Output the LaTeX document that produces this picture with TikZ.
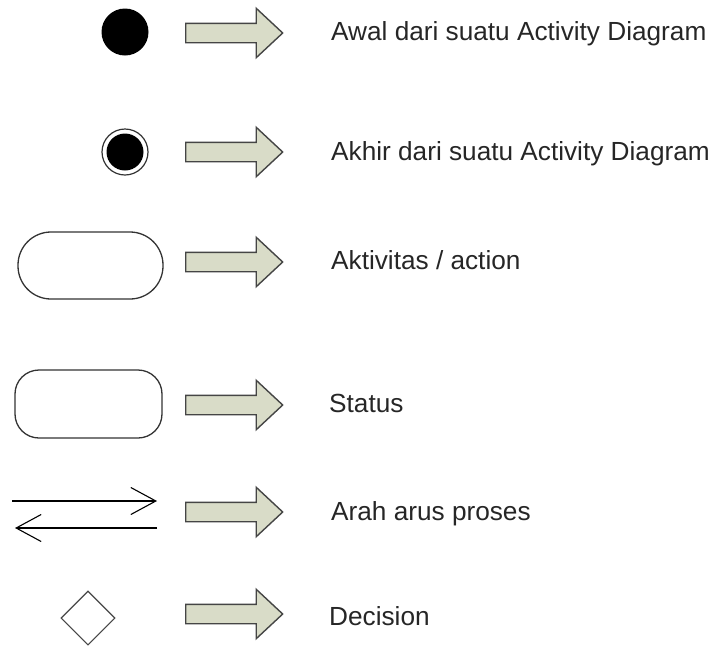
\documentclass[tikz,border=0pt]{standalone}
\usepackage{fontspec}
\setmainfont{Liberation Sans}
\usetikzlibrary{positioning, arrows.meta, shapes.geometric, shapes.arrows}

\definecolor{arrowfill}{HTML}{D9DCC8}
\definecolor{arrowline}{HTML}{454545}
\definecolor{shapeline}{HTML}{333333}

\tikzset{
    bigarrow/.style={single arrow, draw=arrowline, fill=arrowfill, line width=1.4pt,
        minimum height=97pt, inner xsep=0pt, inner ysep=9pt,
        single arrow head extend=15pt, single arrow tip angle=86},
    legendtext/.style={anchor=base west, inner sep=0pt, text=black!85,
        font=\fontsize{26.2}{31}\selectfont},
    flowline/.style={line width=1.1pt, -{Straight Barb[length=25pt, width=27pt, line width=1.1pt]}}
}

\begin{document}
\begin{tikzpicture}[x=1pt, y=-1pt]
    \useasboundingbox (0,0) rectangle (718,649);

    % Symbols
    \node (start) [circle, fill=black, minimum size=47pt, inner sep=0pt] at (125,32) {};
    \node (endring) [circle, draw=shapeline, line width=1.2pt, minimum size=46pt, inner sep=0pt] at (125,152) {};
    \node (enddot) [circle, fill=black, minimum size=37pt, inner sep=0pt] at (125,152) {};
    \node (activity) [draw=shapeline, line width=1.3pt, rounded corners=33pt, minimum width=145pt, minimum height=67pt] at (90.5,265.5) {};
    \node (status) [draw=shapeline, line width=1.3pt, rounded corners=24pt, minimum width=147pt, minimum height=68pt] at (88.5,404) {};
    \coordinate (flowA) at (12,501);
    \coordinate (flowB) at (157,501);
    \coordinate (flowC) at (157,528);
    \coordinate (flowD) at (15,528);
    \draw[flowline] (flowA) -- (flowB);
    \draw[flowline] (flowC) -- (flowD);
    \node (decision) [diamond, draw=shapeline!90, line width=1.1pt, aspect=1, minimum size=54pt, inner sep=0pt] at (88,618) {};

    % Legend arrows
    \node (arrA) [bigarrow] at (229,33) {};
    \node (arrB) [bigarrow] at (229,152) {};
    \node (arrC) [bigarrow] at (229,262) {};
    \node (arrD) [bigarrow] at (229,405) {};
    \node (arrE) [bigarrow] at (229,512) {};
    \node (arrF) [bigarrow] at (229,614) {};

    % Descriptions
    \node (txtA) [legendtext] at (331,40) {Awal dari suatu Activity Diagram};
    \node (txtB) [legendtext] at (331,160) {Akhir dari suatu Activity Diagram};
    \node (txtC) [legendtext] at (331,269) {Aktivitas / action};
    \node (txtD) [legendtext] at (329,412) {Status};
    \node (txtE) [legendtext] at (331,520) {Arah arus proses};
    \node (txtF) [legendtext] at (329,625) {Decision};
\end{tikzpicture}
\end{document}
